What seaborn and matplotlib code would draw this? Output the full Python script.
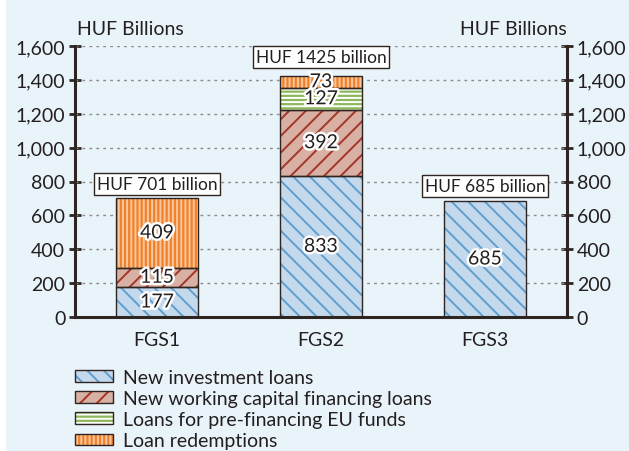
import pandas as pd
import matplotlib.pyplot as plt
import matplotlib.patheffects as pe
from matplotlib.patches import Rectangle
from matplotlib.legend_handler import HandlerTuple
import seaborn as sns

# Data (HUF billions)
programmes = ["FGS1", "FGS2", "FGS3"]
investment = [177, 833, 685]
working_capital = [115, 392, 0]
eu_prefinancing = [0, 127, 0]
redemptions = [409, 73, 0]
totals_text = ["HUF 701 billion", "HUF 1425 billion", "HUF 685 billion"]
series_names = ["New investment loans", "New working capital financing loans",
                "Loans for pre-financing EU funds", "Loan redemptions"]

sns.set_style("white")
plt.rcParams["font.family"] = ["Lato", "DejaVu Sans"]
plt.rcParams["hatch.linewidth"] = 1.4

bg = "#E9F3FA"
dark = "#2E2420"
txt = "#231F20"

# fill colour, hatch colour, hatch pattern
styles = [
    ("#C5D9EC", "#5E9FD0", "\\\\"),
    ("#D9B1A4", "#A3352B", "//"),
    ("#8CB85A", "#FFFFFF", "----"),
    ("#F0822E", "#FBC79C", "||||"),
]

df = pd.DataFrame({"Programme": programmes, series_names[0]: investment,
                   series_names[1]: working_capital, series_names[2]: eu_prefinancing,
                   series_names[3]: redemptions})
cum = df[series_names].cumsum(axis=1)

fig = plt.figure(figsize=(6.29, 4.52), dpi=100, facecolor="white")
fig.patches.append(Rectangle((6 / 629, 0), 1, 1, transform=fig.transFigure,
                             facecolor=bg, edgecolor="none", zorder=-10))
ax = fig.add_axes([75 / 629, 1 - 318 / 452, 492 / 629, 271 / 452])
ax.set_facecolor(bg)

# Stacked bars: draw cumulative totals from top layer to bottom
for name, (fc, hc, hatch) in reversed(list(zip(series_names, styles))):
    n0 = len(ax.patches)
    sns.barplot(x=df["Programme"], y=cum[name], color=fc, width=0.5,
                edgecolor=hc, linewidth=0, hatch=hatch, saturation=1, ax=ax, zorder=2)
    for p, seg in zip(ax.patches[n0:], df[name]):
        if seg == 0:
            p.set_visible(False)

# Segment outlines and value labels
for i, prog in enumerate(programmes):
    base = 0
    for name in series_names:
        seg = df.loc[i, name]
        if seg > 0:
            ax.add_patch(Rectangle((i - 0.25, base), 0.5, seg, fill=False,
                                   edgecolor=dark, linewidth=1.0, zorder=3))
            ax.text(i, base + seg / 2, str(seg), ha="center", va="center",
                    fontsize=14, color=txt, zorder=5,
                    path_effects=[pe.withStroke(linewidth=3.5, foreground="white")])
        base += seg

# Total boxes
box_y = [785, 1535, 773]
for i, t in enumerate(totals_text):
    ax.text(i, box_y[i], t, ha="center", va="center", fontsize=12.5, color=txt,
            zorder=6, bbox=dict(boxstyle="square,pad=0.15", facecolor="white",
                                edgecolor=dark, linewidth=1.0))

ax.set_xlim(-0.5, 2.5)
ax.set_ylim(0, 1600)
yt = list(range(0, 1601, 200))
ax.set_yticks(yt)
ax.set_yticklabels([f"{v:,}" for v in yt])
ax.set_xlabel("")
ax.set_ylabel("")
for v in yt[1:]:
    ax.axhline(v, color="#8C8C8C", linestyle=(0, (2, 3)), linewidth=1.0, zorder=1)

for s in ["left", "right", "bottom"]:
    ax.spines[s].set_visible(True)
    ax.spines[s].set_color(dark)
    ax.spines[s].set_linewidth(2.2)
ax.spines["top"].set_visible(False)

ax.tick_params(axis="y", which="both", direction="inout", length=8, width=2,
               color=dark, labelsize=14, labelcolor=txt,
               left=True, right=True, labelleft=True, labelright=True, pad=3)
ax.set_xticks([-0.5, 0.5, 1.5, 2.5], minor=True)
ax.tick_params(axis="x", which="minor", direction="out", length=6, width=2, color=dark)
ax.tick_params(axis="x", which="major", length=0, labelsize=14,
               labelcolor=txt, pad=10)

ax.text(0.113, 1.035, "HUF Billions", transform=ax.transAxes, ha="center",
        va="bottom", fontsize=14, color=txt)
ax.text(1.0, 1.035, "HUF Billions", transform=ax.transAxes, ha="right",
        va="bottom", fontsize=14, color=txt)

# Legend: hatched swatch with a dark outline on top
handles = [(Rectangle((0, 0), 1, 1, facecolor=fc, edgecolor=hc, hatch=h, linewidth=0),
            Rectangle((0, 0), 1, 1, fill=False, edgecolor=dark, linewidth=1.0))
           for fc, hc, h in styles]
leg = fig.legend(handles, series_names, loc="upper left",
                 handler_map={tuple: HandlerTuple(ndivide=1, pad=0)},
                 bbox_to_anchor=(75 / 629, 1 - 370 / 452), frameon=False,
                 fontsize=14, handlelength=1.95, handleheight=0.55,
                 handletextpad=0.5, labelspacing=0.21, borderaxespad=0,
                 borderpad=0)
for t in leg.get_texts():
    t.set_color(txt)

fig.savefig("out.png", dpi=100, facecolor=fig.get_facecolor())
